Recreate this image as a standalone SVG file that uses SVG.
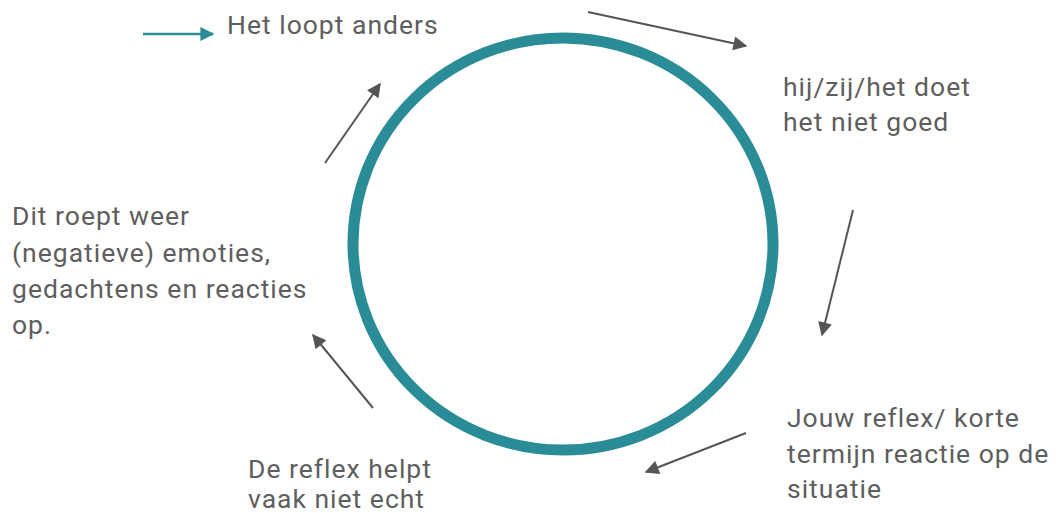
<svg xmlns="http://www.w3.org/2000/svg" width="1056" height="513" viewBox="0 0 1056 513">
<style>
.t{font-family:Roboto,"Liberation Sans",sans-serif;font-size:26.5px;fill:#5e5e5e;letter-spacing:1px}
.c{stroke:#555;stroke-width:2;fill:none;marker-end:url(#ah)}
</style>
<defs>
<marker id="ah" viewBox="0 0 10 10" refX="9" refY="5" markerWidth="16" markerHeight="14" markerUnits="userSpaceOnUse" orient="auto">
<path d="M0,0 L10,5 L0,10 z" fill="#555"/>
</marker>
<marker id="ahT" viewBox="0 0 10 10" refX="9" refY="5" markerWidth="14" markerHeight="14" markerUnits="userSpaceOnUse" orient="auto">
<path d="M0,0 L10,5 L0,10 z" fill="#2a8c96"/>
</marker>
</defs>
<rect width="1056" height="513" fill="#fff"/>
<g id="cycle">
<ellipse cx="563" cy="244" rx="210" ry="206" fill="none" stroke="#2a8c96" stroke-width="11"/>
</g>
<g id="legend">
<line x1="143" y1="34" x2="213" y2="34" stroke="#2a8c96" stroke-width="2.5" marker-end="url(#ahT)"/>
<text class="t" x="227" y="34">Het loopt anders</text>
</g>
<g id="connectors">
<line class="c" x1="588" y1="12" x2="746" y2="46"/>
<line class="c" x1="853" y1="210" x2="822" y2="335"/>
<line class="c" x1="746" y1="433" x2="646" y2="472"/>
<line class="c" x1="373" y1="408" x2="313" y2="335"/>
<line class="c" x1="325" y1="163" x2="380" y2="84"/>
</g>
<g id="n1">
<text class="t" x="783" y="96">hij/zij/het doet</text>
<text class="t" x="783" y="131">het niet goed</text>
</g>
<g id="n2">
<text class="t" x="787" y="427">Jouw reflex/ korte</text>
<text class="t" x="787" y="463">termijn reactie op de</text>
<text class="t" x="787" y="498">situatie</text>
</g>
<g id="n3">
<text class="t" x="248" y="478">De reflex helpt</text>
<text class="t" x="248" y="508">vaak niet echt</text>
</g>
<g id="n4">
<text class="t" x="12" y="225">Dit roept weer</text>
<text class="t" x="12" y="262">(negatieve) emoties,</text>
<text class="t" x="12" y="298">gedachtens en reacties</text>
<text class="t" x="12" y="334">op.</text>
</g>
</svg>
